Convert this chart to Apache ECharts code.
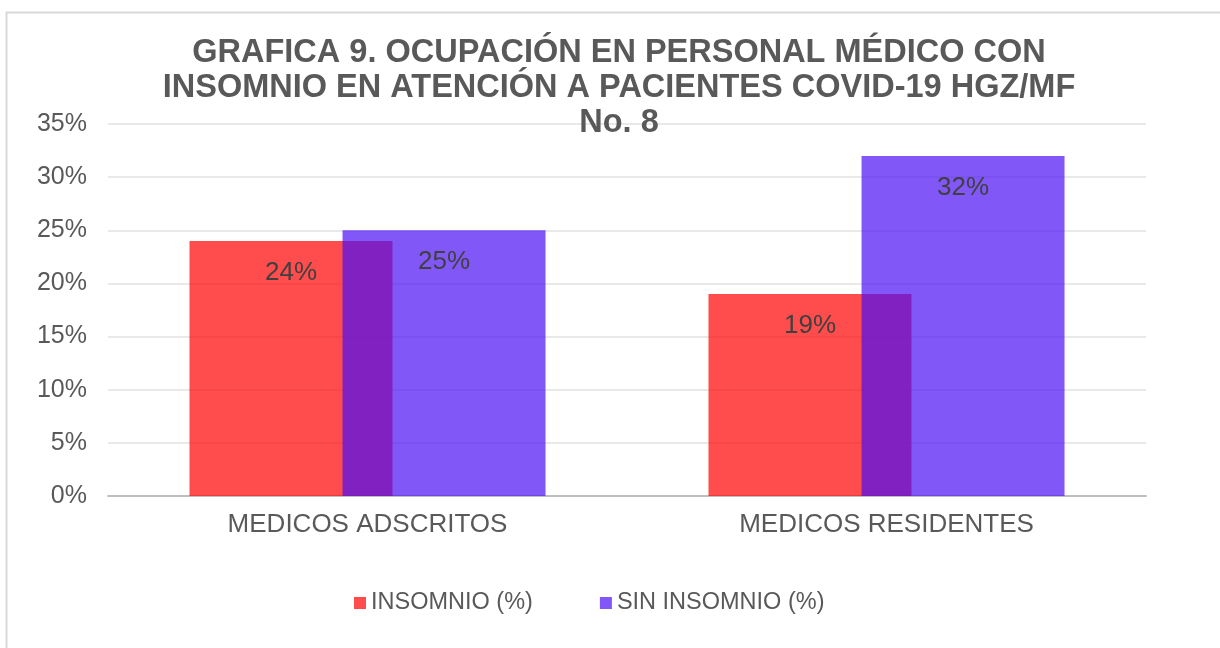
<!DOCTYPE html>
<html><head><meta charset="utf-8">
<script src="https://cdn.jsdelivr.net/npm/echarts@6/dist/echarts.min.js"></script>
<style>html,body{margin:0;padding:0;background:#fff}#c{width:1220px;height:648px}</style>
</head><body><div id="c"></div>
<script>
const categories = ['MEDICOS ADSCRITOS', 'MEDICOS RESIDENTES'];
const insomnio = [24, 19];
const sinInsomnio = [25, 32];
const seriesNames = ['INSOMNIO (%)', 'SIN INSOMNIO (%)'];
const titleLines = ['GRAFICA 9. OCUPACIÓN EN PERSONAL MÉDICO CON', 'INSOMNIO EN ATENCIÓN A PACIENTES COVID-19 HGZ/MF', 'No. 8'];

const FONT = '"Liberation Sans", Arial, sans-serif';
const chart = echarts.init(document.getElementById('c'), null, {renderer: 'canvas'});
const labelCfg = {show: true, position: 'insideTop', distance: 19, formatter: p => p.value + '%', color: '#404040', fontSize: 26, fontFamily: FONT};
chart.setOption({
  animation: false,
  backgroundColor: '#fff',
  graphic: [
    {type: 'rect', shape: {x: 6.5, y: 12.5, width: 1230, height: 700}, style: {fill: 'none', stroke: '#d9d9d9', lineWidth: 2}, silent: true, z: -10},
    {type: 'text', x: 619, y: 36, z: 100, style: {text: titleLines.join('\n'), textAlign: 'center', fill: '#595959', font: 'bold 32.5px ' + FONT, lineHeight: 35}}
  ],
  legend: {
    left: 349, top: 586, itemWidth: 12, itemHeight: 12, itemGap: 67, icon: 'rect',
    textStyle: {color: '#595959', fontSize: 23.5, fontFamily: FONT},
    data: seriesNames
  },
  grid: {left: 108, right: 74, top: 124, bottom: 152, containLabel: false},
  xAxis: {
    type: 'category', data: categories,
    axisLine: {lineStyle: {color: '#bfbfbf', width: 2}},
    axisTick: {show: false},
    axisLabel: {color: '#595959', fontSize: 26, fontFamily: FONT, margin: 16}
  },
  yAxis: {
    type: 'value', min: 0, max: 35, interval: 5,
    axisLine: {show: false}, axisTick: {show: false},
    splitLine: {lineStyle: {color: '#e9e9e9', width: 2}},
    axisLabel: {formatter: '{value}%', color: '#595959', fontSize: 25, fontFamily: FONT, margin: 21}
  },
  series: [
    {name: seriesNames[0], type: 'bar', data: insomnio, barGap: '-24.6%', barCategoryGap: '31.4%',
     itemStyle: {color: 'rgba(255,0,0,0.7)'}, label: labelCfg},
    {name: seriesNames[1], type: 'bar', data: sinInsomnio,
     itemStyle: {color: 'rgba(75,15,243,0.7)'}, label: labelCfg}
  ]
});
</script></body></html>
